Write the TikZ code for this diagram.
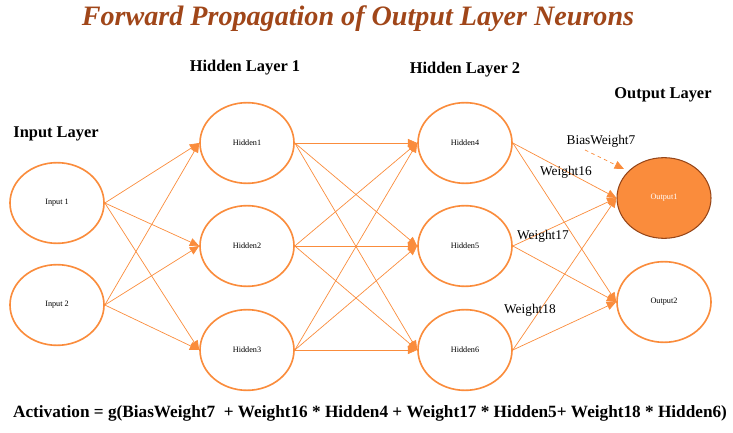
\documentclass[tikz,border=0pt]{standalone}
\usepackage{fontspec}
\setmainfont{Liberation Serif}
\usetikzlibrary{shapes.geometric,arrows.meta}
\definecolor{neuronorange}{RGB}{250,140,60}
\definecolor{titlebrown}{RGB}{160,70,25}
\definecolor{outborder}{RGB}{150,70,25}
\begin{document}
\begin{tikzpicture}[x=0.03cm,y=-0.03cm,
    neuron/.style={ellipse,draw=neuronorange,line width=1.4pt,minimum width=2.82cm,
      minimum height=2.42cm,inner sep=0pt,font=\fontsize{7}{8}\selectfont},
    active/.style={neuron,fill=neuronorange,draw=outborder,line width=0.9pt,text=white},
    layertitle/.style={font=\fontsize{14}{16}\selectfont\bfseries},
    weightlabel/.style={font=\fontsize{11.4}{13}\selectfont},
    link/.style={draw=neuronorange,line width=0.6pt,-{Triangle[length=8pt,width=7pt]}}]
  \useasboundingbox (0,0) rectangle (733,433);
  % title and layer headings
  \node[font=\fontsize{24}{28}\selectfont\bfseries\itshape,text=titlebrown] (title) at (358,19)
    {Forward Propagation of Output Layer Neurons};
  \node[layertitle] (inlayer) at (56,134) {Input Layer};
  \node[layertitle] (h1layer) at (245,68) {Hidden Layer 1};
  \node[layertitle] (h2layer) at (465,70) {Hidden Layer 2};
  \node[layertitle] (outlayer) at (663,95) {Output Layer};
  % neurons
  \node[neuron] (in1) at (57,203) {Input 1};
  \node[neuron] (in2) at (57,305) {Input 2};
  \node[neuron] (h1) at (247,143) {Hidden1};
  \node[neuron] (h2) at (247,246) {Hidden2};
  \node[neuron] (h3) at (247,350) {Hidden3};
  \node[neuron] (h4) at (465,143) {Hidden4};
  \node[neuron] (h5) at (465,246) {Hidden5};
  \node[neuron] (h6) at (465,350) {Hidden6};
  \node[active] (out1) at (664,198) {Output1};
  \node[neuron] (out2) at (664,302) {Output2};
  % connections
  \begin{scope}[link]
    \draw (in1.east) to (h1.west);
    \draw (in1.east) to (h2.west);
    \draw (in1.east) to (h3.west);
    \draw (in2.east) to (h1.west);
    \draw (in2.east) to (h2.west);
    \draw (in2.east) to (h3.west);
    \draw (h1.east) to (h4.west);
    \draw (h1.east) to (h5.west);
    \draw (h1.east) to (h6.west);
    \draw (h2.east) to (h4.west);
    \draw (h2.east) to (h5.west);
    \draw (h2.east) to (h6.west);
    \draw (h3.east) to (h4.west);
    \draw (h3.east) to (h5.west);
    \draw (h3.east) to (h6.west);
    \draw (h4.east) to (out1.west);
    \draw (h4.east) to (out2.west);
    \draw (h5.east) to (out1.west);
    \draw (h5.east) to (out2.west);
    \draw (h6.east) to (out1.west);
    \draw (h6.east) to (out2.west);
  \end{scope}
  % bias and weights
  \node[weightlabel] (bias) at (601,141) {BiasWeight7};
  \coordinate (biasstart) at (585,150);
  \coordinate (biasend) at (624,169);
  \draw[link,dashed] (biasstart) -- (biasend);
  \node[weightlabel] (w16) at (566,172) {Weight16};
  \node[weightlabel] (w17) at (543,236) {Weight17};
  \node[weightlabel] (w18) at (530,310) {Weight18};
  % activation formula
  \node[font=\fontsize{14.7}{17}\selectfont\bfseries] (formula) at (370,413)
    {Activation = g(BiasWeight7~ + Weight16 * Hidden4 + Weight17 * Hidden5+ Weight18 * Hidden6)};
\end{tikzpicture}
\end{document}
